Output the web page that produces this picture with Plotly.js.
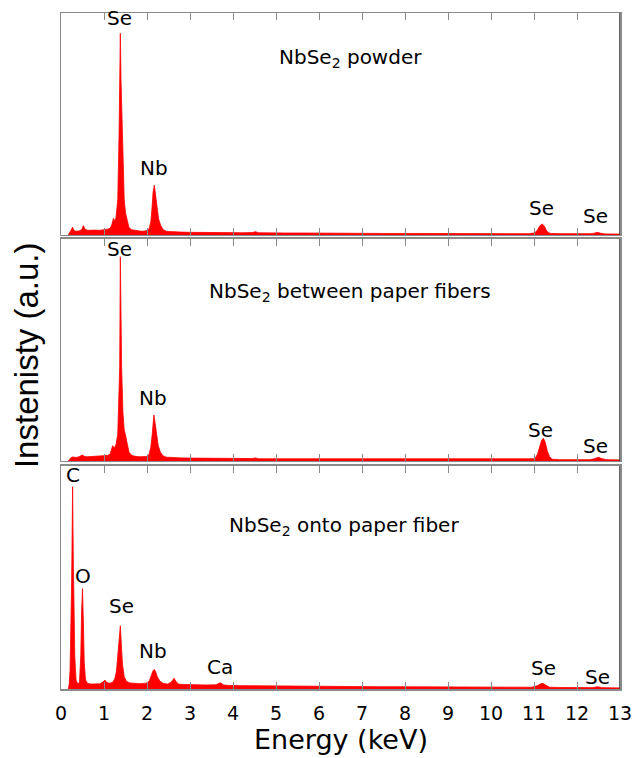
<!DOCTYPE html>
<html>
<head>
<meta charset="utf-8">
<script src="https://cdn.plot.ly/plotly-3.0.1.min.js"></script>
<style>
html,body{margin:0;padding:0;background:#fff;}
#chart{width:633px;height:758px;}
</style>
</head>
<body>
<div id="chart"></div>
<script>
// ---- Data ----
const panelTitles = ["NbSe<sub>2</sub> powder", "NbSe<sub>2</sub> between paper fibers", "NbSe<sub>2</sub> onto paper fiber"];

const energyPowder = [0.17,0.20,0.23,0.24,0.27,0.30,0.35,0.42,0.48,0.52,0.56,0.62,0.70,0.80,0.90,1.00,1.08,1.14,1.18,1.22,1.25,1.28,1.32,1.35,1.365,1.38,1.395,1.41,1.44,1.47,1.50,1.53,1.58,1.64,1.72,1.82,1.92,2.00,2.05,2.09,2.12,2.14,2.17,2.20,2.23,2.27,2.32,2.38,2.46,2.60,2.80,3.00,3.30,3.60,3.90,4.20,4.45,4.52,4.60,4.80,5.20,5.60,6.00,6.50,7.00,7.50,8.00,8.50,9.00,9.50,10.00,10.50,10.90,11.02,11.08,11.13,11.19,11.24,11.29,11.34,11.40,11.60,12.00,12.30,12.40,12.47,12.55,12.65,13.00];
const intensityPowder = [0.000,0.012,0.020,0.024,0.035,0.020,0.017,0.018,0.024,0.042,0.026,0.021,0.020,0.022,0.021,0.023,0.026,0.030,0.045,0.075,0.062,0.080,0.160,0.450,0.610,0.909,0.700,0.580,0.300,0.160,0.100,0.070,0.034,0.024,0.020,0.018,0.017,0.020,0.028,0.060,0.130,0.190,0.225,0.180,0.120,0.072,0.042,0.024,0.016,0.014,0.013,0.012,0.011,0.011,0.010,0.010,0.011,0.015,0.010,0.009,0.009,0.009,0.008,0.008,0.008,0.007,0.007,0.007,0.007,0.006,0.006,0.006,0.006,0.010,0.022,0.040,0.050,0.040,0.020,0.010,0.007,0.006,0.005,0.006,0.008,0.012,0.008,0.005,0.004];

const energyBetween = [0.17,0.20,0.23,0.27,0.31,0.36,0.42,0.47,0.50,0.54,0.60,0.70,0.80,0.90,1.00,1.08,1.14,1.18,1.20,1.24,1.28,1.32,1.35,1.365,1.38,1.395,1.41,1.44,1.47,1.50,1.53,1.58,1.64,1.72,1.82,1.92,2.00,2.05,2.09,2.12,2.14,2.16,2.19,2.22,2.26,2.31,2.37,2.45,2.60,2.80,3.00,3.30,3.60,3.90,4.20,4.45,4.52,4.60,4.80,5.20,5.60,6.00,6.50,7.00,7.50,8.00,8.50,9.00,9.50,10.00,10.50,10.90,11.02,11.08,11.13,11.18,11.22,11.26,11.31,11.36,11.42,11.60,12.00,12.30,12.40,12.50,12.58,12.68,13.00];
const intensityBetween = [0,0.010,0.015,0.018,0.017,0.016,0.019,0.022,0.027,0.021,0.019,0.020,0.021,0.022,0.023,0.025,0.030,0.050,0.069,0.058,0.075,0.120,0.300,0.420,0.920,0.650,0.420,0.220,0.140,0.117,0.080,0.040,0.026,0.021,0.019,0.018,0.020,0.030,0.065,0.117,0.170,0.207,0.170,0.117,0.070,0.040,0.024,0.017,0.015,0.014,0.013,0.012,0.012,0.011,0.011,0.011,0.014,0.010,0.010,0.010,0.009,0.009,0.009,0.008,0.008,0.008,0.008,0.007,0.007,0.007,0.007,0.007,0.010,0.030,0.065,0.095,0.102,0.085,0.045,0.020,0.008,0.006,0.006,0.006,0.010,0.017,0.010,0.006,0.005];

const energyOnto = [0.17,0.19,0.21,0.23,0.245,0.255,0.27,0.285,0.30,0.32,0.35,0.39,0.43,0.46,0.48,0.50,0.52,0.54,0.57,0.62,0.70,0.80,0.90,0.97,1.02,1.07,1.14,1.20,1.25,1.29,1.33,1.36,1.38,1.40,1.43,1.47,1.52,1.60,1.70,1.85,1.98,2.05,2.10,2.14,2.17,2.20,2.24,2.30,2.38,2.48,2.56,2.60,2.63,2.67,2.73,2.85,3.00,3.20,3.40,3.60,3.66,3.71,3.78,3.90,4.20,4.60,5.00,5.50,6.00,6.50,7.00,7.50,8.00,8.50,9.00,9.50,10.00,10.50,10.95,11.08,11.15,11.21,11.28,11.36,11.60,12.00,12.35,12.48,12.58,13.00];
const intensityOnto = [0,0.020,0.080,0.250,0.450,0.620,0.907,0.600,0.350,0.150,0.040,0.022,0.030,0.150,0.350,0.450,0.300,0.120,0.040,0.025,0.022,0.021,0.023,0.030,0.040,0.028,0.026,0.030,0.045,0.080,0.160,0.240,0.284,0.210,0.110,0.055,0.035,0.027,0.025,0.024,0.026,0.035,0.060,0.082,0.088,0.078,0.055,0.035,0.025,0.022,0.030,0.042,0.048,0.035,0.022,0.020,0.019,0.018,0.018,0.019,0.024,0.028,0.018,0.016,0.015,0.014,0.013,0.012,0.012,0.011,0.011,0.010,0.010,0.010,0.009,0.009,0.009,0.008,0.008,0.015,0.023,0.025,0.016,0.008,0.007,0.006,0.006,0.010,0.006,0.005];

const peakLabelsPowder = ["Se","Nb","Se","Se"];
const peakLabelsBetween = ["Se","Nb","Se","Se"];
const peakLabelsOnto = ["C","O","Se","Nb","Ca","Se","Se"];

const xTitle = "Energy (keV)";
const yTitle = "Instenisty (a.u.)";

// ---- Layout / styling ----
const RED = "#ff0000";
const LABEL_FONT = {family: "DejaVu Sans", size: 20, color: "#000"};

function spectrum(x, y, xa, ya) {
  return {type: "scatter", mode: "lines", x: x, y: y, xaxis: xa, yaxis: ya,
    fill: "tozeroy", fillcolor: RED, line: {color: RED, width: 0.8}, hoverinfo: "skip"};
}

const data = [
  spectrum(energyPowder, intensityPowder, "x", "y"),
  spectrum(energyBetween, intensityBetween, "x2", "y2"),
  spectrum(energyOnto, intensityOnto, "x3", "y3")
];

function xAxis(anchor, labels) {
  return {anchor: anchor, domain: [0, 1], range: [0, 13], tick0: 0, dtick: 1,
    ticks: "inside", ticklen: 7, tickwidth: 1, tickcolor: "#8a8a8a",
    showline: true, linecolor: "#8a8a8a", linewidth: 1.5, mirror: "ticks",
    showgrid: false, zeroline: false, showticklabels: labels, ticklabelstandoff: 7,
    tickfont: {family: "DejaVu Sans", size: 19, color: "#000"}, fixedrange: true};
}
function yAxis(anchor, dom) {
  return {anchor: anchor, domain: dom, range: [0, 1], showticklabels: false, ticks: "",
    showline: true, linecolor: "#8a8a8a", linewidth: 1.5, mirror: true,
    showgrid: false, zeroline: false, fixedrange: true};
}

// label anchor positions (energy, relative intensity) for each panel
const posPowder = [[1.37,0.976],[2.17,0.30],[11.18,0.123],[12.43,0.087]];
const posBetween = [[1.37,0.957],[2.15,0.282],[11.14,0.14],[12.42,0.069]];
const posOnto = [[0.27,0.96],[0.52,0.507],[1.40,0.374],[2.15,0.17],[3.70,0.10],[11.21,0.094],[12.47,0.054]];

const annotations = [];
function addLabels(labels, pos, xr, yr) {
  labels.forEach((t, i) => annotations.push({text: t, x: pos[i][0], y: pos[i][1], xref: xr, yref: yr,
    showarrow: false, xanchor: "center", yanchor: "middle", font: LABEL_FONT}));
}
addLabels(peakLabelsPowder, posPowder, "x", "y");
addLabels(peakLabelsBetween, posBetween, "x2", "y2");
addLabels(peakLabelsOnto, posOnto, "x3", "y3");

annotations.push({text: panelTitles[0], x: 6.74, y: 0.796, xref: "x", yref: "y", showarrow: false, font: LABEL_FONT});
annotations.push({text: panelTitles[1], x: 6.72, y: 0.761, xref: "x2", yref: "y2", showarrow: false, font: LABEL_FONT});
annotations.push({text: panelTitles[2], x: 6.58, y: 0.732, xref: "x3", yref: "y3", showarrow: false, font: LABEL_FONT});

annotations.push({text: xTitle, xref: "paper", yref: "paper", x: 0.5, y: -0.0754,
  xanchor: "center", yanchor: "middle", showarrow: false,
  font: {family: "DejaVu Sans", size: 27, color: "#000"}});
annotations.push({text: yTitle, xref: "paper", yref: "paper", x: -0.0626, y: 0.494,
  xanchor: "center", yanchor: "middle", textangle: -90, showarrow: false,
  font: {family: "Liberation Sans", size: 33, color: "#000"}});

const shapes = [["x","y domain"],["x2","y2 domain"],["x3","y3 domain"]].map(r => ({
  type: "line", xref: r[0], yref: r[1], x0: 13, x1: 13, y0: 0, y1: 1,
  line: {color: "#333", width: 1.5}}));

const layout = {
  width: 633, height: 758,
  margin: {l: 61, r: 13, t: 13, b: 69},
  paper_bgcolor: "#fff", plot_bgcolor: "#fff",
  showlegend: false,
  xaxis: xAxis("y", false),
  xaxis2: xAxis("y2", false),
  xaxis3: xAxis("y3", true),
  yaxis: yAxis("x", [0.6716, 1]),
  yaxis2: yAxis("x2", [0.3373, 0.6657]),
  yaxis3: yAxis("x3", [0, 0.3299]),
  annotations: annotations,
  shapes: shapes
};

Plotly.newPlot("chart", data, layout, {displayModeBar: false, staticPlot: true});
</script>
</body>
</html>
